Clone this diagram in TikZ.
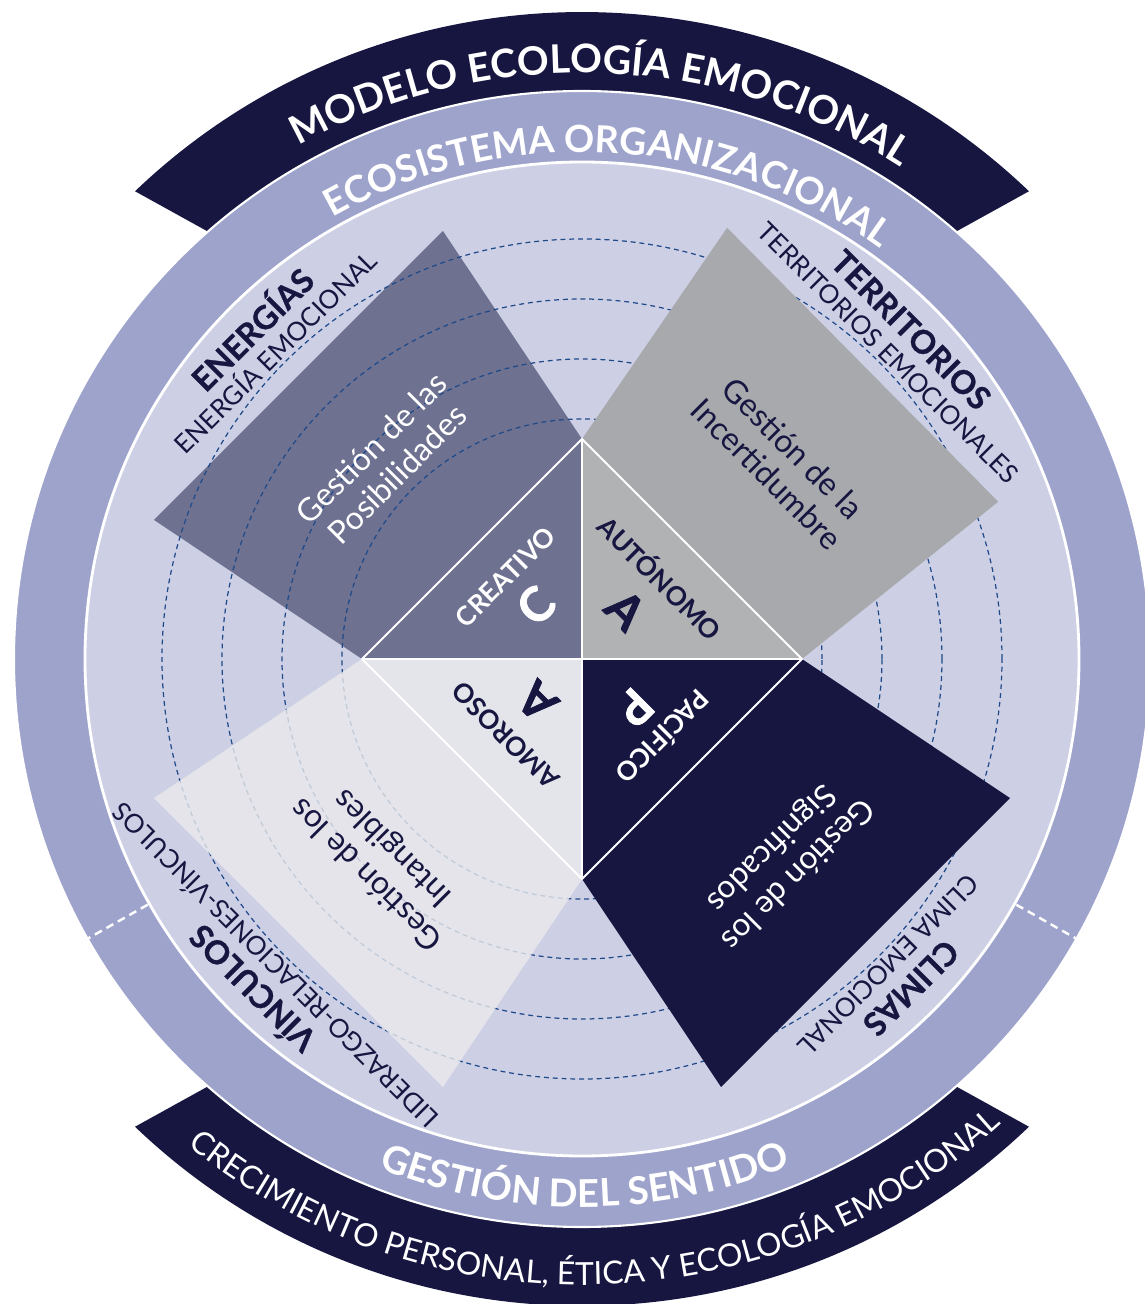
\documentclass[tikz,border=0pt]{standalone}
\usepackage{fontspec}
\setmainfont{Lato}
\usetikzlibrary{decorations.text}

\definecolor{navy}{HTML}{161641}
\definecolor{ringmid}{HTML}{9EA3CC}
\definecolor{disc}{HTML}{CDD0E5}
\definecolor{slate}{HTML}{6E7190}
\definecolor{panelgray}{HTML}{A8A9AC}
\definecolor{kitegray}{HTML}{B1B2B4}
\definecolor{panellight}{HTML}{EAEAEC}
\definecolor{kitelight}{HTML}{E4E5EB}
\definecolor{ringblue}{HTML}{1F4A8A}

\tikzset{
  rim/.style={draw=white, line width=1.6pt},
  ringdash/.style={draw=ringblue, line width=0.7pt, dash pattern=on 2.8pt off 2.2pt},
  cutdash/.style={draw=white, line width=1.4pt, dash pattern=on 4.5pt off 3pt},
  kitecut/.style={draw=white, line width=1.2pt},
  caps/.style={inner sep=0pt, text height=0.72em, text depth=0pt},
  areabold/.style={caps, font=\fontsize{18.5}{20}\selectfont\bfseries\addfontfeature{FakeBold=0.8}, text=navy},
  arealight/.style={caps, font=\fontsize{14.8}{17}\selectfont, text=navy},
  gestion/.style={align=center, inner sep=0pt, font=\fontsize{18.2}{21}\selectfont},
  kitetitle/.style={caps, font=\fontsize{15}{17}\selectfont\bfseries},
  kiteletter/.style={caps, font=\fontsize{27}{30}\selectfont\bfseries\addfontfeature{FakeBold=1.5}},
  bandtext/.style={decorate, decoration={text along path, text align=center, text color=white}}
}

\begin{document}
\begin{tikzpicture}[x=0.02cm, y=0.02cm]
  \fill[white] (-582,-645) rectangle (563,659);
  \useasboundingbox (-582,-645) rectangle (563,659);

  \fill[navy] (46.3:647) arc[start angle=46.3, end angle=133.7, radius=647] -- (-348,413) -- (348,413) -- cycle;
  \fill[navy] (-46.3:647) arc[start angle=-46.3, end angle=-133.7, radius=647] -- (-348,-413) -- (348,-413) -- cycle;
  \filldraw[fill=ringmid, draw=white, line width=1.2pt] (0,0) circle[radius=568];
  \filldraw[fill=disc, rim] (0,0) circle[radius=497];
  \draw[cutdash] (209.5:499) -- (209.5:568);
  \draw[cutdash] (-29.5:499) -- (-29.5:568);

  \fill[slate] (90:220) -- (108:450) -- (162:450) -- (180:220) -- cycle;
  \foreach \r in {240,300,360,420}
    \draw[ringdash] (0,0) circle[radius=\r];
  \fill[panellight, fill opacity=0.8] (180:220) -- (198:450) -- (252:450) -- (270:220) -- cycle;
  \fill[panelgray] (0:220) -- (20.7:445) -- (71.4:455) -- (90:220) -- cycle;
  \fill[navy] (270:220) -- (288:450) -- (342:450) -- (360:220) -- cycle;

  \fill[slate] (0,0) -- (90:220) -- (180:220) -- cycle;
  \fill[kitegray] (0,0) -- (0:220) -- (90:220) -- cycle;
  \fill[kitelight] (0,0) -- (180:220) -- (270:220) -- cycle;
  \fill[navy] (0,0) -- (270:220) -- (0:220) -- cycle;
  \draw[kitecut] (90:220) -- (0:220) -- (270:220) -- (180:220) -- cycle;
  \draw[kitecut] (90:220) -- (270:220) (180:220) -- (0:220);

  \path[bandtext, decoration={text={|\fontsize{22.4}{25}\selectfont\bfseries|MODELO ECOLOGÍA EMOCIONAL}}]
    (133:586) arc[start angle=133, end angle=43, radius=586];
  \path[bandtext, decoration={text={|\fontsize{21.3}{24}\selectfont\bfseries|ECOSISTEMA ORGANIZACIONAL}}]
    (131.7:507) arc[start angle=131.7, end angle=41.7, radius=507];
  \path[bandtext, decoration={text={|\fontsize{21.8}{24}\selectfont\bfseries|GESTIÓN DEL SENTIDO}}]
    (225.3:548) arc[start angle=225.3, end angle=315.3, radius=548];
  \path[bandtext, decoration={text={|\fontsize{18.1}{21}\selectfont|CRECIMIENTO PERSONAL, ÉTICA Y ECOLOGÍA EMOCIONAL}}]
    (226.5:626) arc[start angle=226.5, end angle=316.5, radius=626];

  \node[areabold, rotate=45] (energias) at (135:460) {ENERGÍAS};
  \node[arealight, rotate=45] (energiaemo) at (135:430) {ENERGÍA EMOCIONAL};
  \node[areabold, rotate=-45] (territorios) at (45:460) {TERRITORIOS};
  \node[arealight, rotate=-45] (territoriosemo) at (45:430) {TERRITORIOS EMOCIONALES};
  \node[areabold, rotate=135] (vinculos) at (225:460) {VÍNCULOS};
  \node[arealight, rotate=135] (liderazgo) at (225:430) {LIDERAZGO-RELACIONES-VÍNCULOS};
  \node[areabold, rotate=-135] (climas) at (315:460) {CLIMAS};
  \node[arealight, rotate=-135] (climaemo) at (315:430) {CLIMA EMOCIONAL};

  \node[gestion, text=white, rotate=45] (posib) at (135:280) {Gestión de las\\Posibilidades};
  \node[gestion, text=navy, rotate=-45] (incert) at (45:280) {Gestión de la\\Incertidumbre};
  \node[gestion, text=navy, rotate=135] (intang) at (225:285) {Gestión de los\\Intangibles};
  \node[gestion, text=white, rotate=-135] (signif) at (315:285) {Gestión de los\\Significados};

  \node[kitetitle, text=white, rotate=45] (creativo) at (133:109) {CREATIVO};
  \node[kiteletter, text=white, rotate=45] (letterc) at (130:60) {C};
  \node[kitetitle, text=navy, rotate=-45] (autonomo) at (46:108) {AUTÓNOMO};
  \node[kiteletter, text=navy, rotate=-45] (lettera) at (49:55) {A};
  \node[kitetitle, text=navy, rotate=135] (amoroso) at (225:105) {AMOROSO};
  \node[kiteletter, text=navy, rotate=135] (letteramo) at (223:51) {A};
  \node[kitetitle, text=white, rotate=-135] (pacifico) at (316:108) {PACÍFICO};
  \node[kiteletter, text=white, rotate=-135] (letterp) at (318:61) {P};
\end{tikzpicture}
\end{document}
